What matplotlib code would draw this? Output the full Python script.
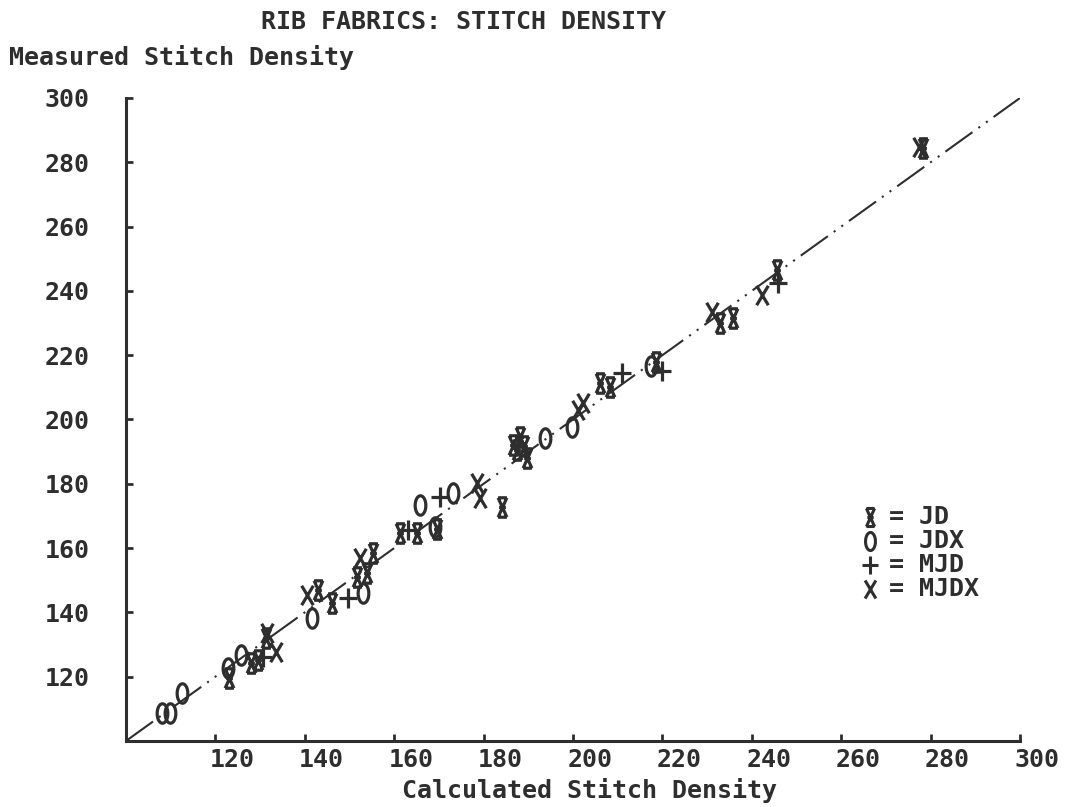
import numpy as np
import matplotlib
matplotlib.use("Agg")
import matplotlib.pyplot as plt
import matplotlib.transforms as mtransforms
from matplotlib.path import Path

# calculated vs measured stitch density, rib fabrics
jd_x = [123.0, 128.0, 129.5, 131.3, 143.0, 146.1, 153.9, 155.3, 151.6, 161.3, 165.1, 169.5,
        184.1, 186.6, 188.1, 187.5, 189.7, 189.0, 206.0, 208.3, 218.5, 232.9, 235.8, 245.6, 278.3]
jd_y = [119.6, 124.3, 125.2, 132.0, 147.0, 142.9, 152.3, 158.5, 151.0, 164.7, 164.7, 166.0,
        172.8, 192.1, 194.6, 190.5, 188.0, 191.8, 211.4, 210.1, 218.0, 230.0, 231.6, 246.5, 284.4]

jdx_x = [108.1, 109.8, 112.5, 122.8, 125.7, 141.6, 153.0, 169.1, 165.8, 173.2, 193.7, 199.8, 217.5]
jdx_y = [108.7, 108.7, 114.9, 122.7, 126.7, 138.3, 146.0, 166.6, 173.4, 177.1, 194.2, 197.7, 216.5]

mjd_x = [130.6, 149.7, 163.0, 170.2, 211.0, 220.0, 245.9]
mjd_y = [126.1, 144.5, 165.5, 175.9, 214.5, 215.0, 242.5]

mjdx_x = [133.6, 131.5, 140.5, 152.3, 178.5, 179.2, 201.1, 202.2, 231.1, 242.3, 277.5]
mjdx_y = [127.7, 133.6, 145.4, 156.9, 180.2, 175.6, 203.0, 205.1, 233.4, 238.7, 284.8]

ticks = [120, 140, 160, 180, 200, 220, 240, 260, 280, 300]

ink = "#2e2e2e"
fs = 18
mono = {"family": "DejaVu Sans Mono", "weight": "bold", "color": ink}

# plotter-style symbols
M, L = Path.MOVETO, Path.LINETO
star_path = Path([(-0.45, 1), (0.45, 1), (-0.45, -1), (0.45, -1),
                  (-0.45, 1), (0.45, -1), (0.45, 1), (-0.45, -1),
                  (-0.35, 0), (0.35, 0)],
                 [M, L, M, L, M, L, M, L, M, L])
t = np.linspace(0, 2 * np.pi, 40)
oh_path = Path(np.column_stack([0.55 * np.cos(t), np.sin(t)]))
ex_path = Path([(-0.6, 1), (0.6, -1), (0.6, 1), (-0.6, -1)], [M, L, M, L])
plus_path = Path([(-0.7, 0), (0.7, 0), (0, -0.8), (0, 0.8)], [M, L, M, L])

fig = plt.figure(figsize=(10.71, 8.07), dpi=100)
ax = fig.add_axes([0.1176, 0.0818, 0.8348, 0.7968])

ax.plot([100, 300], [100, 300], color=ink, lw=1.5,
        linestyle=(0, (16, 3.5, 1, 3.5, 1, 3.5)))

kw = dict(linestyle="none", color=ink, mfc="none", mec=ink, mew=2.3, ms=14, clip_on=False)
ax.plot(jd_x, jd_y, marker=star_path, **kw)
ax.plot(jdx_x, jdx_y, marker=oh_path, **kw)
ax.plot(mjd_x, mjd_y, marker=plus_path, **kw)
ax.plot(mjdx_x, mjdx_y, marker=ex_path, **kw)

ax.set_xlim(100, 300)
ax.set_ylim(100, 300)
ax.set_xticks(ticks)
ax.set_yticks(ticks)
ax.set_xticklabels([str(v) for v in ticks], **mono, fontsize=fs)
ax.set_yticklabels([str(v) for v in ticks], **mono, fontsize=fs)
ax.tick_params(direction="in", length=5, width=2, color=ink)
ax.tick_params(axis="y", pad=26)
ax.tick_params(axis="x", pad=5)
shift = mtransforms.ScaledTranslation(-4 / 72, 0, fig.dpi_scale_trans)
for lab in ax.get_xticklabels():
    lab.set_horizontalalignment("left")
    lab.set_transform(lab.get_transform() + shift)

for s in ["top", "right"]:
    ax.spines[s].set_visible(False)
for s in ["left", "bottom"]:
    ax.spines[s].set_linewidth(2.2)
    ax.spines[s].set_color(ink)

fig.text(0.433, 0.973, "RIB FABRICS: STITCH DENSITY", ha="center", va="center", fontsize=fs, **mono)
fig.text(0.008, 0.929, "Measured Stitch Density", ha="left", va="center", fontsize=fs, **mono)
fig.text(0.55, 0.021, "Calculated Stitch Density", ha="center", va="center", fontsize=fs, **mono)

# key
key_paths = [star_path, oh_path, plus_path, ex_path]
key_names = ["JD", "JDX", "MJD", "MJDX"]
key_y = [517, 541, 565, 589]
for p, name, yy in zip(key_paths, key_names, key_y):
    fy = 1 - yy / 807
    ax.plot([870 / 1071], [fy], marker=p, transform=fig.transFigure,
            ms=13, mew=2.2, mec=ink, mfc="none", linestyle="none", clip_on=False)
    fig.text(889 / 1071, fy, "= " + name, ha="left", va="center", fontsize=fs, **mono)

fig.savefig("out.png", dpi=100)
